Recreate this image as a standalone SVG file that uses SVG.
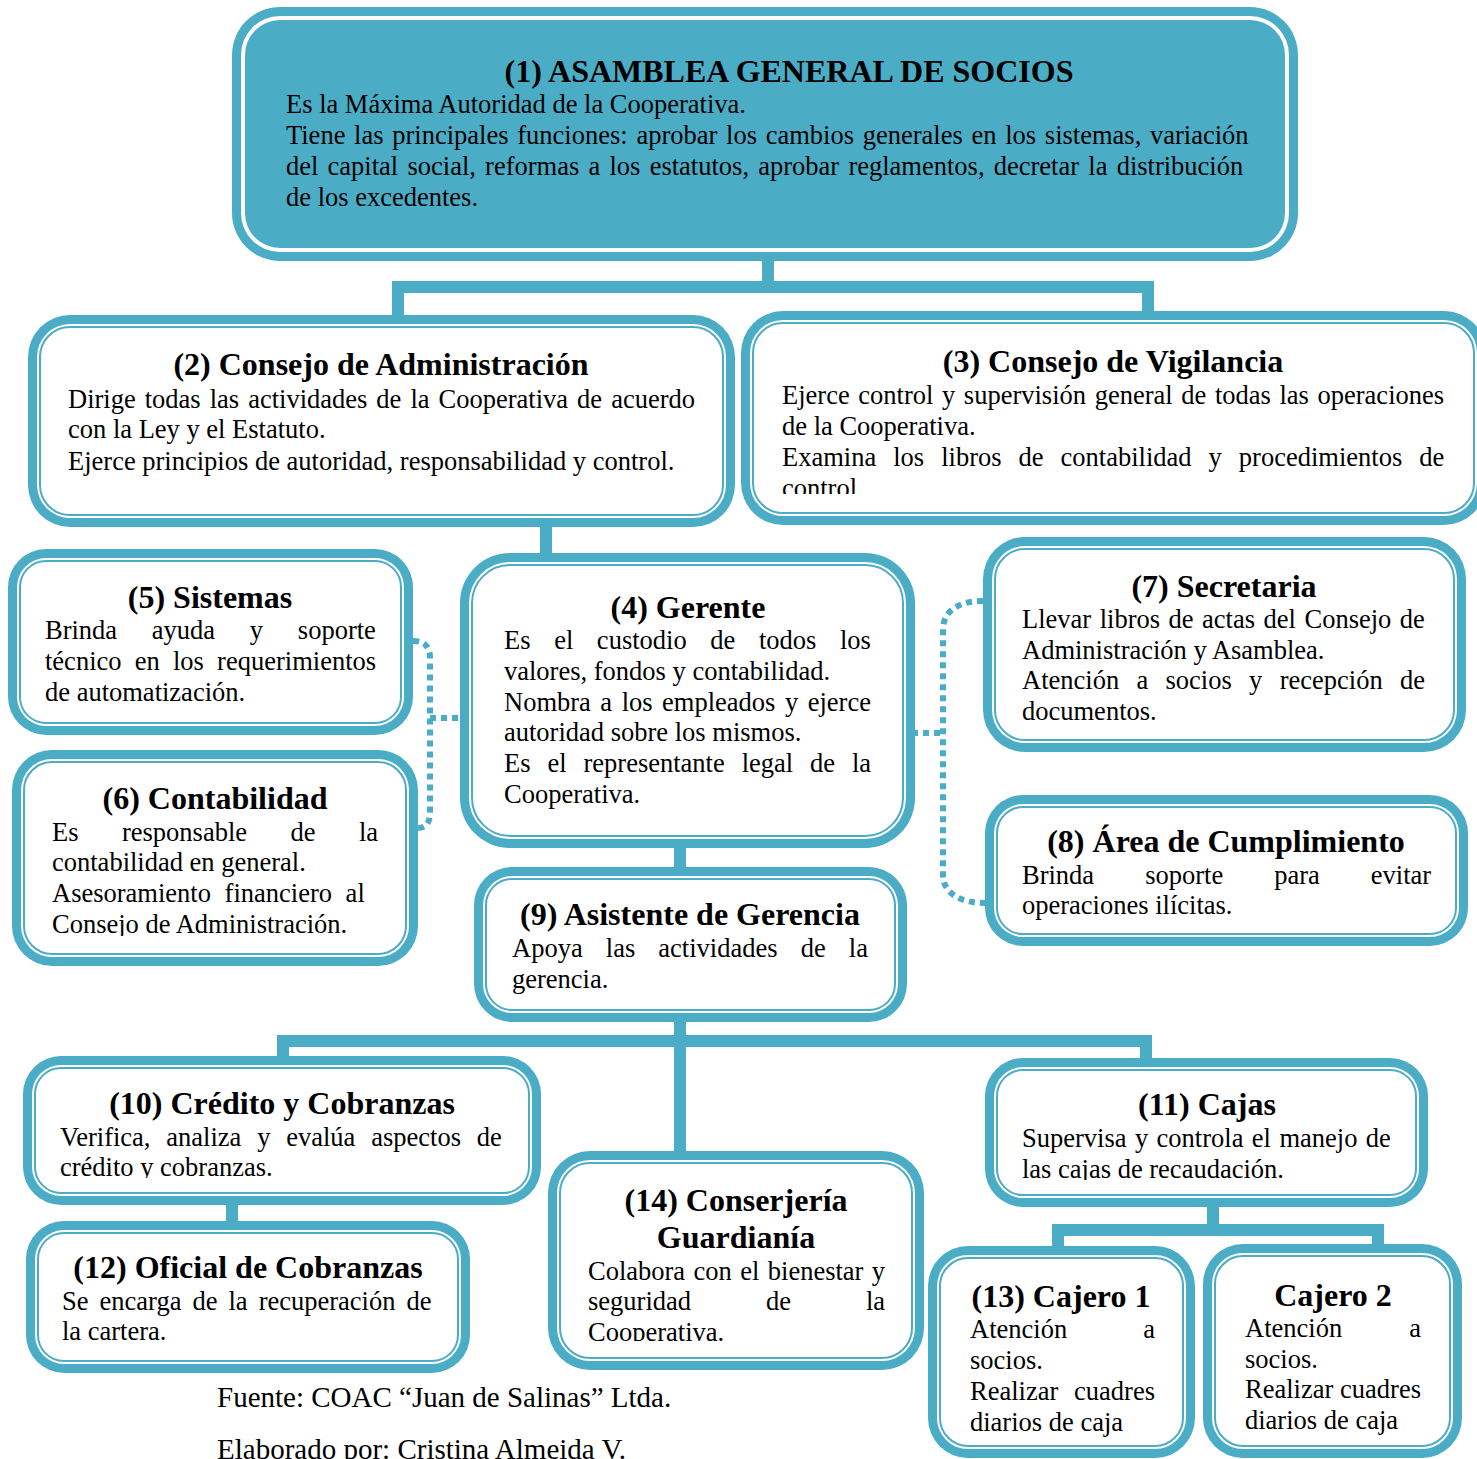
<svg xmlns="http://www.w3.org/2000/svg" width="1477" height="1459" viewBox="0 0 1477 1459">
  <style>
    .o { fill: #4BACC6; }
    .g { fill: #ffffff; }
    .i { fill: #ffffff; stroke: #4BACC6; stroke-width: 2; }
    .ib { fill: #4BACC6; }
    .c { fill: none; stroke: #4BACC6; stroke-width: 12; }
    .d { fill: none; stroke: #4BACC6; stroke-width: 6; stroke-dasharray: 6 5; }
    text { font-family: "Liberation Serif", "Times New Roman", serif; font-size: 26.5px; fill: #000; }
    .h { font-weight: bold; font-size: 32px; text-anchor: middle; }
    .f { font-size: 29px; }
  </style>
  <defs>
    <clipPath id="clip3"><rect x="760" y="330" width="710" height="164"/></clipPath>
    <clipPath id="clip6"><rect x="30" y="770" width="370" height="166"/></clipPath>
    <clipPath id="clip10"><rect x="40" y="1070" width="490" height="108"/></clipPath>
    <clipPath id="clip11"><rect x="1000" y="1070" width="410" height="110"/></clipPath>
    <clipPath id="clip14"><rect x="565" y="1165" width="340" height="176"/></clipPath>
  </defs>

  <!-- solid and dotted connectors -->
  <g id="connectors">
    <path class="c" d="M768 258 V287"/>
    <path class="c" d="M398 320 V287 H1148 V322"/>
    <path class="c" d="M546 522 V557"/>
    <path class="c" d="M680 844 V871"/>
    <path class="c" d="M680 1018 V1153"/>
    <path class="c" d="M283 1061 V1041 H1146 V1062"/>
    <path class="c" d="M232 1200 V1225"/>
    <path class="c" d="M1213 1204 V1230"/>
    <path class="c" d="M1058 1252 V1230 H1378 V1247"/>
    <path class="d" d="M413 641 Q430 641 430 658 V812 Q430 828 418 828"/>
    <path class="d" d="M430 718 H462"/>
    <path class="d" d="M983 601 C960 601 943 610 943 630 V875 C943 893 960 903 985 903"/>
    <path class="d" d="M912 733 H943"/>
  </g>

  <!-- (1) Asamblea -->
  <g id="n1">
    <rect class="o" x="232" y="7" width="1066" height="254" rx="48"/>
    <rect class="g" x="241" y="16" width="1048" height="236" rx="39"/>
    <rect class="ib" x="245" y="20" width="1040" height="228" rx="35"/>
    <text class="h" x="789" y="82">(1) ASAMBLEA GENERAL DE SOCIOS</text>
    <text x="286" y="113">Es la Máxima Autoridad de la Cooperativa.</text>
    <text x="286" y="144" word-spacing="2.1">Tiene las principales funciones: aprobar los cambios generales en los sistemas, variación</text>
    <text x="286" y="175" word-spacing="2.6">del capital social, reformas a los estatutos, aprobar reglamentos, decretar la distribución</text>
    <text x="286" y="206">de los excedentes.</text>
  </g>

  <!-- (2) Consejo de Administración -->
  <g id="n2">
    <rect class="o" x="28" y="315" width="707" height="212" rx="42"/>
    <rect class="g" x="37" y="324" width="689" height="194" rx="33"/>
    <rect class="i" x="40" y="327" width="683" height="188" rx="30"/>
    <text class="h" x="381" y="375">(2) Consejo de Administración</text>
    <text x="68" y="408" word-spacing="2.4">Dirige todas las actividades de la Cooperativa de acuerdo</text>
    <text x="68" y="438">con la Ley y el Estatuto.</text>
    <text x="68" y="470">Ejerce principios de autoridad, responsabilidad y control.</text>
  </g>

  <!-- (3) Consejo de Vigilancia -->
  <g id="n3">
    <rect class="o" x="741" y="311" width="745" height="214" rx="42"/>
    <rect class="g" x="750" y="320" width="727" height="196" rx="33"/>
    <rect class="i" x="753" y="323" width="721" height="190" rx="30"/>
    <text class="h" x="1113" y="372">(3) Consejo de Vigilancia</text>
    <g clip-path="url(#clip3)">
      <text x="782" y="404" word-spacing="2.0">Ejerce control y supervisión general de todas las operaciones</text>
      <text x="782" y="435">de la Cooperativa.</text>
      <text x="782" y="466" word-spacing="10.4">Examina los libros de contabilidad y procedimientos de</text>
      <text x="782" y="497">control.</text>
    </g>
  </g>

  <!-- (4) Gerente -->
  <g id="n4">
    <rect class="o" x="460" y="553" width="455" height="295" rx="50"/>
    <rect class="g" x="469" y="562" width="437" height="277" rx="41"/>
    <rect class="i" x="472" y="565" width="431" height="271" rx="38"/>
    <text class="h" x="688" y="618">(4) Gerente</text>
    <text x="504" y="649" word-spacing="17.0">Es el custodio de todos los</text>
    <text x="504" y="680">valores, fondos y contabilidad.</text>
    <text x="504" y="711" word-spacing="2.9">Nombra a los empleados y ejerce</text>
    <text x="504" y="741">autoridad sobre los mismos.</text>
    <text x="504" y="772" word-spacing="10.3">Es el representante legal de la</text>
    <text x="504" y="803">Cooperativa.</text>
  </g>

  <!-- (5) Sistemas -->
  <g id="n5">
    <rect class="o" x="8" y="549" width="405" height="186" rx="38"/>
    <rect class="g" x="17" y="558" width="387" height="168" rx="29"/>
    <rect class="i" x="20" y="561" width="381" height="162" rx="26"/>
    <text class="h" x="210" y="608">(5) Sistemas</text>
    <text x="45" y="639" word-spacing="28.1">Brinda ayuda y soporte</text>
    <text x="45" y="670" word-spacing="6.6">técnico en los requerimientos</text>
    <text x="45" y="701">de automatización.</text>
  </g>

  <!-- (6) Contabilidad -->
  <g id="n6">
    <rect class="o" x="12" y="750" width="406" height="216" rx="40"/>
    <rect class="g" x="21" y="759" width="388" height="198" rx="31"/>
    <rect class="i" x="24" y="762" width="382" height="192" rx="28"/>
    <text class="h" x="215" y="809">(6) Contabilidad</text>
    <g clip-path="url(#clip6)">
      <text x="52" y="841" word-spacing="36.8">Es responsable de la</text>
      <text x="52" y="871">contabilidad en general.</text>
      <text x="52" y="902" word-spacing="7.0">Asesoramiento financiero al</text>
      <text x="52" y="933">Consejo de Administración.</text>
    </g>
  </g>

  <!-- (7) Secretaria -->
  <g id="n7">
    <rect class="o" x="983" y="537" width="483" height="215" rx="42"/>
    <rect class="g" x="992" y="546" width="465" height="197" rx="33"/>
    <rect class="i" x="995" y="549" width="459" height="191" rx="30"/>
    <text class="h" x="1224" y="597">(7) Secretaria</text>
    <text x="1022" y="628" word-spacing="1.9">Llevar libros de actas del Consejo de</text>
    <text x="1022" y="659">Administración y Asamblea.</text>
    <text x="1022" y="689" word-spacing="10.7">Atención a socios y recepción de</text>
    <text x="1022" y="720">documentos.</text>
  </g>

  <!-- (8) Área de Cumplimiento -->
  <g id="n8">
    <rect class="o" x="985" y="795" width="483" height="151" rx="38"/>
    <rect class="g" x="994" y="804" width="465" height="133" rx="29"/>
    <rect class="i" x="997" y="807" width="459" height="127" rx="26"/>
    <text class="h" x="1226" y="852">(8) Área de Cumplimiento</text>
    <text x="1022" y="884" word-spacing="44.4">Brinda soporte para evitar</text>
    <text x="1022" y="914">operaciones ilícitas.</text>
  </g>

  <!-- (9) Asistente de Gerencia -->
  <g id="n9">
    <rect class="o" x="474" y="867" width="433" height="155" rx="38"/>
    <rect class="g" x="483" y="876" width="415" height="137" rx="29"/>
    <rect class="i" x="486" y="879" width="409" height="131" rx="26"/>
    <text class="h" x="690" y="925">(9) Asistente de Gerencia</text>
    <text x="512" y="957" word-spacing="16.5">Apoya las actividades de la</text>
    <text x="512" y="988">gerencia.</text>
  </g>

  <!-- (10) Crédito y Cobranzas -->
  <g id="n10">
    <rect class="o" x="23" y="1056" width="518" height="149" rx="38"/>
    <rect class="g" x="32" y="1065" width="500" height="131" rx="29"/>
    <rect class="i" x="35" y="1068" width="494" height="125" rx="26"/>
    <text class="h" x="282" y="1114">(10) Crédito y Cobranzas</text>
    <g clip-path="url(#clip10)">
      <text x="60" y="1146" word-spacing="9.2">Verifica, analiza y evalúa aspectos de</text>
      <text x="60" y="1176">crédito y cobranzas.</text>
    </g>
  </g>

  <!-- (11) Cajas -->
  <g id="n11">
    <rect class="o" x="985" y="1058" width="443" height="149" rx="38"/>
    <rect class="g" x="994" y="1067" width="425" height="131" rx="29"/>
    <rect class="i" x="997" y="1070" width="419" height="125" rx="26"/>
    <text class="h" x="1207" y="1115">(11) Cajas</text>
    <g clip-path="url(#clip11)">
      <text x="1022" y="1147" word-spacing="1.8">Supervisa y controla el manejo de</text>
      <text x="1022" y="1178">las cajas de recaudación.</text>
    </g>
  </g>

  <!-- (12) Oficial de Cobranzas -->
  <g id="n12">
    <rect class="o" x="26" y="1221" width="444" height="152" rx="38"/>
    <rect class="g" x="35" y="1230" width="426" height="134" rx="29"/>
    <rect class="i" x="38" y="1233" width="420" height="128" rx="26"/>
    <text class="h" x="248" y="1278">(12) Oficial de Cobranzas</text>
    <text x="62" y="1310" word-spacing="4.4">Se encarga de la recuperación de</text>
    <text x="62" y="1340">la cartera.</text>
  </g>

  <!-- (14) Conserjería Guardianía -->
  <g id="n14">
    <rect class="o" x="548" y="1151" width="376" height="219" rx="42"/>
    <rect class="g" x="557" y="1160" width="358" height="201" rx="33"/>
    <rect class="i" x="560" y="1163" width="352" height="195" rx="30"/>
    <text class="h" x="736" y="1211">(14) Conserjería</text>
    <text class="h" x="736" y="1248">Guardianía</text>
    <g clip-path="url(#clip14)">
      <text x="588" y="1280" word-spacing="1.8">Colabora con el bienestar y</text>
      <text x="588" y="1310" word-spacing="68.3">seguridad de la</text>
      <text x="588" y="1341">Cooperativa.</text>
    </g>
  </g>

  <!-- (13) Cajero 1 -->
  <g id="n13">
    <rect class="o" x="928" y="1246" width="267" height="212" rx="40"/>
    <rect class="g" x="937" y="1255" width="249" height="194" rx="31"/>
    <rect class="i" x="940" y="1258" width="243" height="188" rx="28"/>
    <text class="h" x="1061" y="1307">(13) Cajero 1</text>
    <text x="970" y="1338" word-spacing="69.5">Atención a</text>
    <text x="970" y="1369">socios.</text>
    <text x="970" y="1400" word-spacing="9.2">Realizar cuadres</text>
    <text x="970" y="1431">diarios de caja</text>
  </g>

  <!-- Cajero 2 -->
  <g id="n15">
    <rect class="o" x="1203" y="1244" width="259" height="214" rx="40"/>
    <rect class="g" x="1212" y="1253" width="241" height="196" rx="31"/>
    <rect class="i" x="1215" y="1256" width="235" height="190" rx="28"/>
    <text class="h" x="1333" y="1306">Cajero 2</text>
    <text x="1245" y="1337" word-spacing="60.5">Atención a</text>
    <text x="1245" y="1368">socios.</text>
    <text x="1245" y="1398" word-spacing="0.2">Realizar cuadres</text>
    <text x="1245" y="1429">diarios de caja</text>
  </g>

  <!-- source notes -->
  <text class="f" x="217" y="1407">Fuente: COAC “Juan de Salinas” Ltda.</text>
  <text class="f" x="217" y="1459">Elaborado por: Cristina Almeida V.</text>
</svg>
